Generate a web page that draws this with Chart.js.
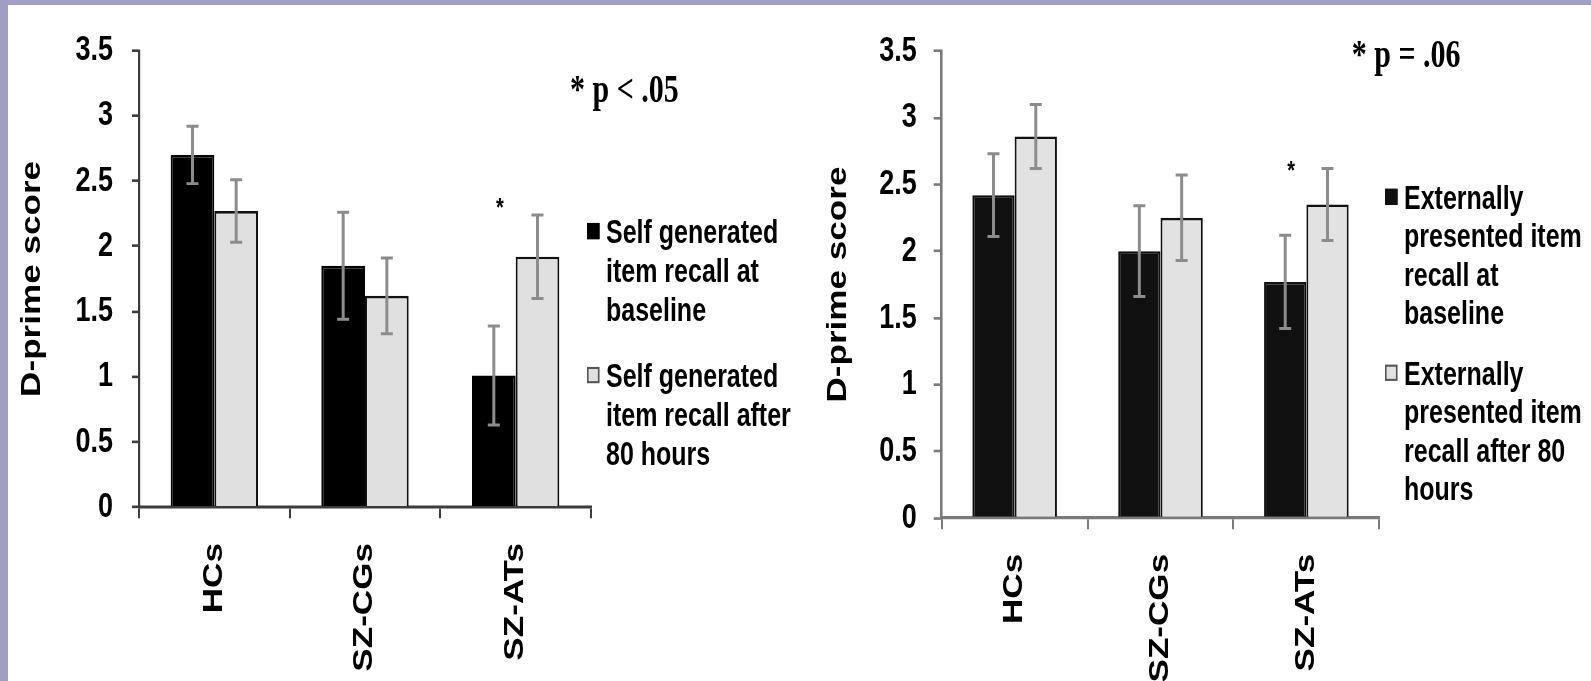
<!DOCTYPE html>
<html><head><meta charset="utf-8">
<script src="https://cdn.jsdelivr.net/npm/chart.js@4/dist/chart.umd.min.js"></script>
<style>
html,body{margin:0;padding:0;background:#fff;}
#page{position:relative;width:1591px;height:681px;overflow:hidden;background:#fff;}
.band-top{position:absolute;left:0;top:0;width:1591px;height:5px;background:#9f9fc3;z-index:2}
.band-left{position:absolute;left:0;top:0;width:8px;height:681px;background:#9f9fc3;z-index:2}
canvas{position:absolute;top:0;}
</style></head>
<body><div id="page"><div class="band-top"></div><div class="band-left"></div>
<canvas id="c1" style="left:0px"></canvas><canvas id="c2" style="left:800px"></canvas></div>
<script>
// ---- data ----
const categories = ["HCs", "SZ-CGs", "SZ-ATs"];
const yTickValues = [0, 0.5, 1, 1.5, 2, 2.5, 3, 3.5];
const leftBaseline = [2.70, 1.85, 1.01];
const leftBaselineErr = [0.22, 0.41, 0.38];
const leftAfter = [2.27, 1.62, 1.92];
const leftAfterErr = [0.24, 0.29, 0.32];
const rightBaseline = [2.42, 2.00, 1.77];
const rightBaselineErr = [0.31, 0.34, 0.35];
const rightAfter = [2.86, 2.25, 2.35];
const rightAfterErr = [0.24, 0.32, 0.27];
const leftLegend = [["Self generated", "item recall at", "baseline"], ["Self generated", "item recall after", "80 hours"]];
const rightLegend = [["Externally", "presented item", "recall at", "baseline"], ["Externally", "presented item", "recall after 80", "hours"]];
const leftNote = "* p < .05";
const rightNote = "* p = .06";
const leftStar = { category: 2, value: 2.35 };
const rightStar = { category: 2, value: 2.65 };
const yTitle = "D-prime score";

// ---- rendering ----
const FULL_H = 681, LOG_H = 524, K = FULL_H / LOG_H;
const SANS = "'Liberation Sans', Arial, sans-serif";
Chart.defaults.font.family = SANS;

const overlay = {
  id: 'overlay',
  afterDatasetsDraw(chart, args, o) {
    const ctx = chart.ctx, y = chart.scales.y;
    chart.data.datasets.forEach((ds, i) => {
      const meta = chart.getDatasetMeta(i);
      meta.data.forEach((bar, j) => {
        const v = ds.data[j], e = o.errors[i][j];
        const yt = y.getPixelForValue(v + e), yb = y.getPixelForValue(v - e);
        ctx.save();
        ctx.strokeStyle = '#8c8c8c';
        ctx.lineWidth = 3;
        ctx.beginPath(); ctx.moveTo(bar.x, yt); ctx.lineTo(bar.x, yb); ctx.stroke();
        ctx.lineWidth = 2.3;
        ctx.beginPath();
        ctx.moveTo(bar.x - 6, yt); ctx.lineTo(bar.x + 6, yt);
        ctx.moveTo(bar.x - 6, yb); ctx.lineTo(bar.x + 6, yb);
        ctx.stroke();
        ctx.restore();
      });
    });
  },
  afterDraw(chart, args, o) {
    const ctx = chart.ctx, y = chart.scales.y;
    ctx.save();
    // star
    const b0 = chart.getDatasetMeta(0).data[o.star.category];
    ctx.fillStyle = '#000';
    ctx.font = "bold 20px " + SANS;
    ctx.textAlign = 'center';
    ctx.textBaseline = 'alphabetic';
    ctx.fillText('*', b0.x + 6, y.getPixelForValue(o.star.value) + 11.5);
    // note
    ctx.font = "bold 30px 'Liberation Serif', 'Times New Roman', serif";
    ctx.textAlign = 'left';
    ctx.fillText(o.note, o.noteX, o.noteY);
    // legend
    ctx.font = "bold 25px " + SANS;
    ctx.textBaseline = 'middle';
    chart.data.datasets.forEach((ds, i) => {
      const top = o.legendTops[i];
      ctx.fillStyle = ds.backgroundColor;
      ctx.strokeStyle = i === 0 ? ds.borderColor : '#555';
      ctx.lineWidth = 1.6;
      ctx.fillRect(o.boxX, top - 8.5, 12.5, 12.5);
      ctx.strokeRect(o.boxX + 0.8, top - 7.7, 10.9, 10.9);
      ctx.fillStyle = '#000';
      o.legend[i].forEach((line, k) => ctx.fillText(line, o.textX, top + k * o.lineH));
    });
    ctx.restore();
  }
};

function build(id, W, g) {
  const canvas = document.getElementById(id);
  canvas.width = W; canvas.height = LOG_H;
  canvas.style.width = W + 'px'; canvas.style.height = LOG_H + 'px';
  const tickFont = { family: SANS, size: 27, weight: 'bold' };
  const cfg = {
    type: 'bar',
    data: {
      labels: categories,
      datasets: [
        { label: g.legend[0].join(' '), data: g.s0, backgroundColor: g.dark, borderColor: g.dark, borderWidth: 2,
          categoryPercentage: 0.58, barPercentage: 1.0 },
        { label: g.legend[1].join(' '), data: g.s1, backgroundColor: g.light, borderColor: '#111', borderWidth: 2,
          categoryPercentage: 0.58, barPercentage: 1.0 }
      ]
    },
    options: {
      responsive: false, animation: false, devicePixelRatio: 1, events: [],
      layout: { padding: { left: 0, right: g.padRight, top: g.padTop, bottom: 0 } },
      plugins: {
        legend: { display: false }, tooltip: { enabled: false },
        overlay: { errors: g.errors, star: g.star, note: g.note, noteX: g.noteX, noteY: g.noteY,
                   legend: g.legend, legendTops: g.legendTops, boxX: g.boxX, textX: g.textX, lineH: g.lineH }
      },
      scales: {
        x: {
          offset: true,
          grid: { offset: true, drawOnChartArea: false, drawTicks: true, tickLength: 8.5, color: g.axis, lineWidth: 2 },
          border: { display: true, color: g.axis, width: g.axisW },
          ticks: { minRotation: 90, maxRotation: 90, autoSkip: false, padding: g.xPad, color: '#000', font: tickFont },
          afterFit: s => { s.height = g.xHeight; }
        },
        y: {
          min: 0, max: 3.5,
          afterBuildTicks: s => { s.ticks = yTickValues.map(v => ({ value: v })); },
          grid: { drawOnChartArea: false, drawTicks: true, tickLength: g.yTick, color: g.axis, lineWidth: 2 },
          border: { display: true, color: g.axis, width: g.axisW },
          ticks: { padding: g.yPad, color: '#000', font: tickFont, callback: v => String(v) },
          title: { display: true, text: yTitle, color: '#000', font: { family: SANS, size: 27, weight: 'bold' },
                   padding: { top: g.titlePad, bottom: 0 } },
          afterFit: s => { s.width = g.yWidth; }
        }
      }
    },
    plugins: [overlay]
  };
  const chart = new Chart(canvas, cfg);
  // the reference is stretched vertically; draw stretched with a crisp backing store
  canvas.height = FULL_H;
  canvas.style.height = FULL_H + 'px';
  chart.ctx.setTransform(1, 0, 0, K, 0, 0);
  chart.draw();
  return chart;
}

build('c1', 800, {
  s0: leftBaseline, s1: leftAfter, errors: [leftBaselineErr, leftAfterErr],
  legend: leftLegend, note: leftNote, star: leftStar,
  dark: '#000', light: '#e0e0e0', axis: '#3c3c3c', axisW: 2.2,
  padRight: 209, padTop: 50.5 / K, xHeight: LOG_H - 507.3 / K, yWidth: 139,
  yTick: 7, yPad: 19, xPad: 19, titlePad: 16.8,
  noteX: 570, noteY: 102 / K,
  legendTops: [234 / K, 378 / K], boxX: 587, textX: 606, lineH: 30.2
});
build('c2', 791, {
  s0: rightBaseline, s1: rightAfter, errors: [rightBaselineErr, rightAfterErr],
  legend: rightLegend, note: rightNote, star: rightStar,
  dark: '#111', light: '#e2e2e2', axis: '#7a7a7a', axisW: 2.6,
  padRight: 791 - 579.3, padTop: 51 / K, xHeight: LOG_H - 518.1 / K, yWidth: 141.7,
  yTick: 8, yPad: 17, xPad: 19, titlePad: 22.8,
  noteX: 551.7, noteY: 67.3 / K,
  legendTops: [199.8 / K, 375.7 / K], boxX: 585, textX: 604, lineH: 29.6
});
</script>
</body></html>
